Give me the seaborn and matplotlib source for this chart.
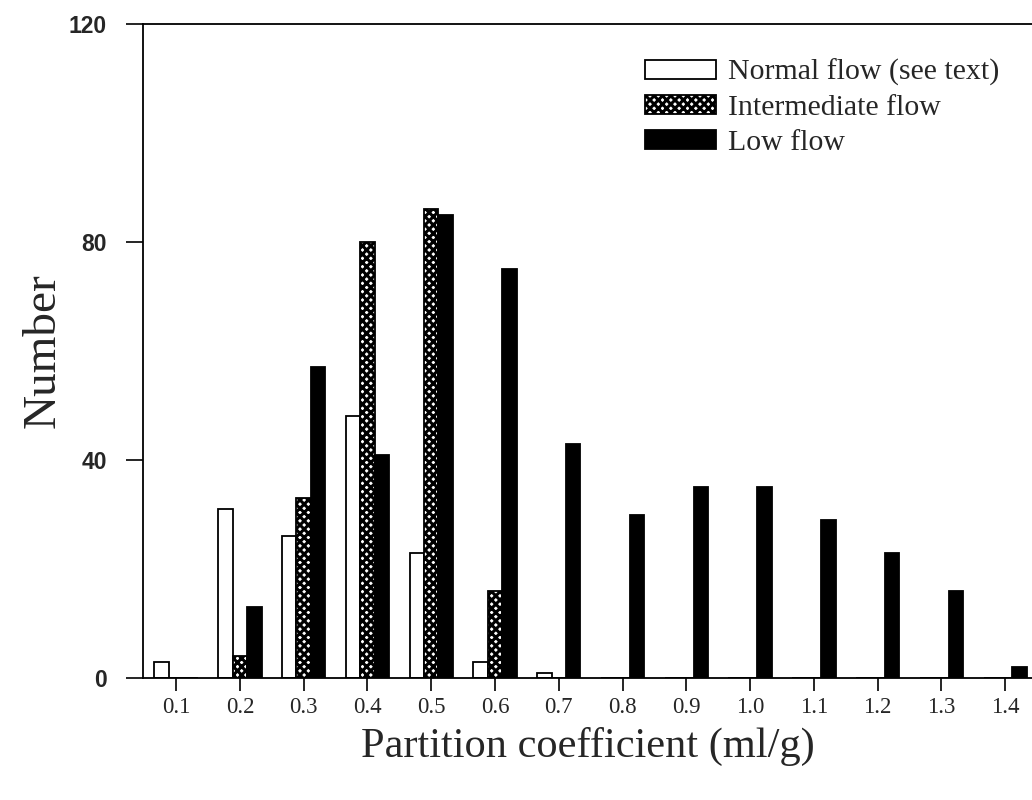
import matplotlib
matplotlib.use("Agg")
import matplotlib.pyplot as plt
import seaborn as sns
import pandas as pd
from matplotlib.patches import Patch

categories = ["0.1", "0.2", "0.3", "0.4", "0.5", "0.6", "0.7",
              "0.8", "0.9", "1.0", "1.1", "1.2", "1.3", "1.4"]
normal_flow = [3, 31, 26, 48, 23, 3, 1, 0, 0, 0, 0, 0, 0, 0]
intermediate_flow = [0, 4, 33, 80, 86, 16, 0, 0, 0, 0, 0, 0, 0, 0]
low_flow = [0, 13, 57, 41, 85, 75, 43, 30, 35, 35, 29, 23, 16, 2]
series_names = ["Normal flow (see text)", "Intermediate flow", "Low flow"]
y_ticks = [0, 40, 80, 120]

rows = []
for name, vals in zip(series_names, [normal_flow, intermediate_flow, low_flow]):
    for c, v in zip(categories, vals):
        rows.append({"coef": c, "count": v, "flow": name})
df = pd.DataFrame(rows)

sns.set_theme(style="white")
plt.rcParams["hatch.linewidth"] = 2.2
plt.rcParams["hatch.color"] = "black"

fig = plt.figure(figsize=(10.32, 8.0), dpi=100)
ax = fig.add_axes([143 / 1032, 122 / 800, 1 - 143 / 1032, (678 - 24) / 800])

sns.barplot(data=df, x="coef", y="count", hue="flow", order=categories,
            hue_order=series_names, palette=["white", "white", "black"],
            width=0.68, dodge=True, legend=False, ax=ax,
            edgecolor="black", linewidth=1.3, saturation=1)

hatch_pat = "xxxx"
hatches = [None, hatch_pat, None]
for cont, h in zip(ax.containers, hatches):
    for p in cont.patches:
        if h:
            p.set_hatch(h)
        p.set_edgecolor("black")

ax.set_xlim(-0.52, 13.42)
ax.set_ylim(0, 120)
ax.set_yticks(y_ticks)
ax.set_yticklabels([str(t) for t in y_ticks], fontfamily="Liberation Sans",
                   fontweight="bold", fontsize=16.5)
ax.set_xticks(range(len(categories)))
ax.set_xticklabels(categories, fontfamily="Liberation Serif", fontsize=16.5)
ax.tick_params(axis="x", direction="out", length=9, width=1.2, color="black",
               bottom=True, pad=5)
ax.tick_params(axis="y", direction="out", length=12, width=1.2, color="black",
               left=True, pad=14)

for s in ["left", "bottom", "top"]:
    ax.spines[s].set_visible(True)
    ax.spines[s].set_color("black")
    ax.spines[s].set_linewidth(1.3)
ax.spines["right"].set_visible(False)

ax.set_xlabel("Partition coefficient (ml/g)", fontfamily="Liberation Serif",
              fontsize=30.5, labelpad=6)
ax.set_ylabel("Number", fontfamily="Liberation Serif", fontsize=34, labelpad=3)

handles = [
    Patch(facecolor="white", edgecolor="black", linewidth=1.3),
    Patch(facecolor="white", edgecolor="black", hatch=hatch_pat, linewidth=1.3),
    Patch(facecolor="black", edgecolor="black", linewidth=1.3),
]
ax.legend(handles, series_names, loc="upper right", bbox_to_anchor=(0.994, 0.988),
          frameon=False, prop={"family": "Liberation Serif", "size": 21.5},
          handlelength=2.4, handleheight=0.6, handletextpad=0.4, labelspacing=0.3)

fig.savefig("out.png", dpi=100, facecolor="white")
